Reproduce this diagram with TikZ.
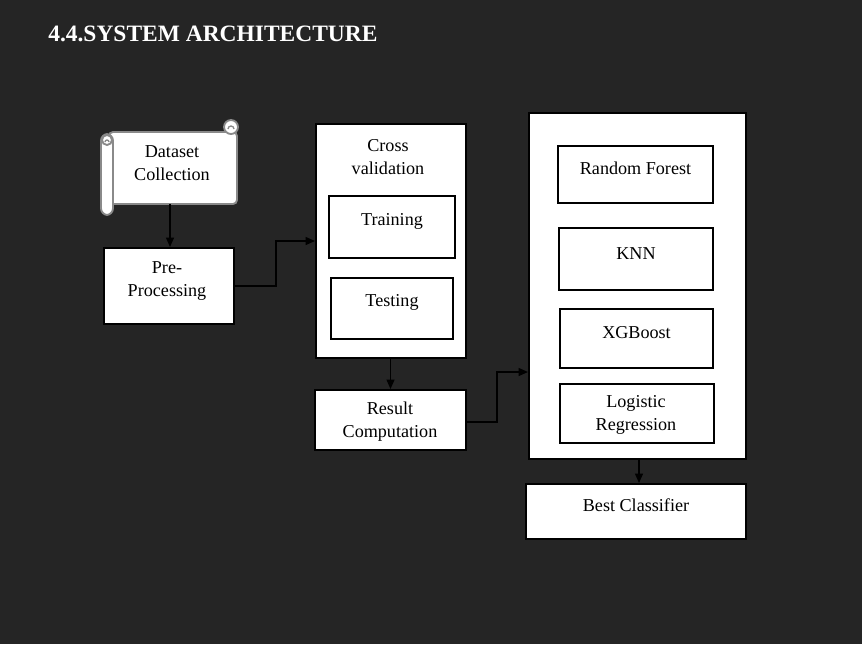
\documentclass[tikz,border=0pt]{standalone}
\usepackage{fontspec}
\setmainfont{Liberation Serif}
\usepackage{xcolor}
\usetikzlibrary{arrows.meta,positioning,fit}
\definecolor{bgdark}{HTML}{252525}
\definecolor{scrollgray}{HTML}{8A8A8A}
\tikzset{
  box/.style={draw=black,line width=1.6pt,fill=white,inner sep=0pt,align=center,font=\fontsize{13.6}{17.3}\selectfont},
  lbl/.style={align=center,inner sep=0pt,font=\fontsize{13.6}{17.3}\selectfont},
  link/.style={->,draw=black,line width=0.8pt},
  scroll/.style={draw=scrollgray,line width=1.4pt,fill=white}
}
\begin{document}
\begin{tikzpicture}[x=0.75pt,y=-0.75pt,>={Triangle[length=7pt,width=6pt]}]
  \useasboundingbox[fill=bgdark] (0,0) rectangle (862,644);
  \node[anchor=base west,text=white,font=\fontsize{17.6}{21}\selectfont\bfseries,inner sep=0pt] (title) at (48,41) {4.4.SYSTEM ARCHITECTURE};
  % scroll for the dataset
  \draw[scroll,rounded corners=3pt] (109,132) rectangle (237,204);
  \draw[scroll] (231,127) circle (7);
  \draw[scrollgray,line width=1pt] (228,129) arc (180:360:3);
  \draw[scroll,rounded corners=5pt] (101,134) rectangle (113,215);
  \draw[scroll] (107,140) circle (5);
  \draw[scrollgray,line width=1pt] (105,142) arc (180:360:2);
  \node[lbl] (data) at (172,163) {Dataset\\Collection};
  \coordinate (databot) at (170,204);
  % left column
  \node[box,fit={(104,248) (234,324)}] (prep) {};
  \node[lbl] (preptext) at (167,281) {Pre-\\Processing};
  % cross validation
  \node[box,fit={(316,124) (466,358)}] (cross) {};
  \node[lbl] (crosstitle) at (388,157) {Cross\\validation};
  \node[box,fit={(329,196) (455,258)}] (train) {Training\\[10pt]};
  \node[box,fit={(331,278) (453,339)}] (test) {Testing\\[10pt]};
  \node[box,fit={(315,390) (466,450)}] (result) {};
  \node[lbl] (resulttext) at (390,421.5) {Result\\Computation};
  % classifiers
  \node[box,fit={(529,113) (746,459)}] (models) {};
  \node[box,fit={(558,146) (713,203)}] (rf) {Random Forest\\[11pt]};
  \node[box,fit={(559,228) (713,290)}] (knn) {KNN\\[12pt]};
  \node[box,fit={(560,309) (713,368)}] (xgb) {XGBoost\\[12pt]};
  \node[box,fit={(560,384) (714,443)}] (logreg) {};
  \node[lbl] (logregtext) at (636,414.5) {Logistic\\Regression};
  \node[box,fit={(526,484) (746,539)}] (best) {Best Classifier\\[12pt]};
  % connectors
  \draw[link] (databot) -- (databot |- prep.north);
  \draw[link] (prep.east |- 0,286) -| (276,241) -- (cross.west |- 0,241);
  \draw[link] (result.north |- cross.south) -- (result.north);
  \draw[link] (result.east |- 0,422) -| (497,372) -- (models.west |- 0,372);
  \draw[link] (639,0 |- models.south) -- (639,0 |- best.north);
\end{tikzpicture}
\end{document}
